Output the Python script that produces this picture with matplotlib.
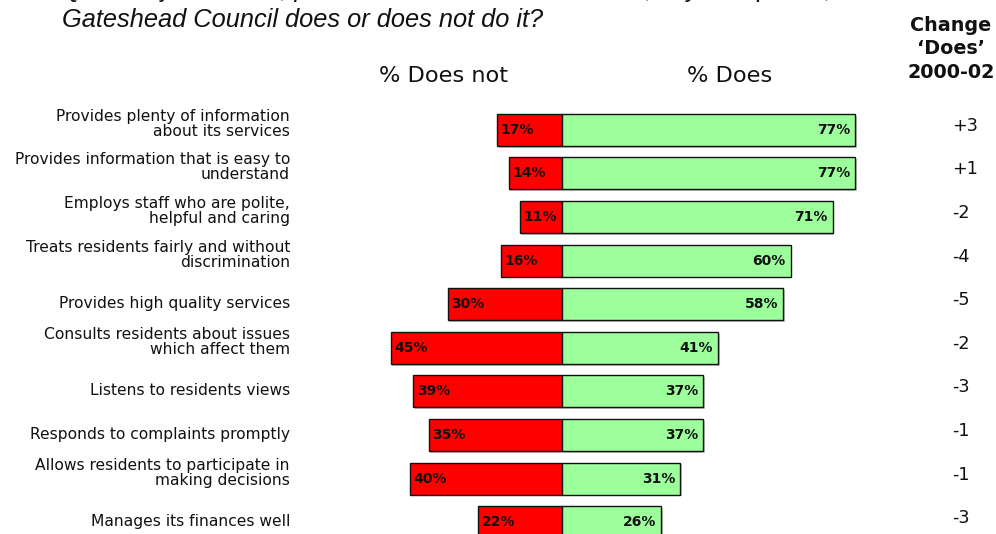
import matplotlib
matplotlib.use("Agg")
import matplotlib.pyplot as plt
from matplotlib.transforms import offset_copy
import matplotlib.patheffects as pe

plt.rcParams['font.family'] = ['DejaVu Sans']

categories = [
    "Provides plenty of information\nabout its services",
    "Provides information that is easy to\nunderstand",
    "Employs staff who are polite,\nhelpful and caring",
    "Treats residents fairly and without\ndiscrimination",
    "Provides high quality services",
    "Consults residents about issues\nwhich affect them",
    "Listens to residents views",
    "Responds to complaints promptly",
    "Allows residents to participate in\nmaking decisions",
    "Manages its finances well",
]
does_not = [17, 14, 11, 16, 30, 45, 39, 35, 40, 22]
does = [77, 77, 71, 60, 58, 41, 37, 37, 31, 26]
change = ["+3", "+1", "-2", "-4", "-5", "-2", "-3", "-1", "-1", "-3"]

RED = "#FF0000"
GREEN = "#9CFF9C"
INK = "#111111"

W, H = 996, 534
fig = plt.figure(figsize=(W / 100, H / 100), dpi=100)
ax = fig.add_axes([0, 0, 1, 1])
ax.set_xlim(-147.5, 113.9)
ax.set_ylim(9.27, -2.98)
ax.axis("off")

rows = list(range(len(categories)))
bar_h = 0.734
shadow = [pe.SimplePatchShadow(offset=(1.2, -1.2), shadow_rgbFace="#9a9a9a", alpha=0.6),
          pe.Normal()]

red_bars = ax.barh(rows, [-v for v in does_not], height=bar_h, color=RED,
                   edgecolor=INK, linewidth=1.0)
green_bars = ax.barh(rows, does, height=bar_h, color=GREEN,
                     edgecolor=INK, linewidth=1.0)
for p in list(red_bars) + list(green_bars):
    p.set_path_effects(shadow)

for i, (dn, d) in enumerate(zip(does_not, does)):
    ax.text(-dn + 0.9, i, f"{dn}%", ha="left", va="center",
            fontsize=10, fontweight="bold", color=INK)
    ax.text(d - 1.3, i, f"{d}%", ha="right", va="center",
            fontsize=10, fontweight="bold", color=INK)

# category labels to the left of the bars
for i, cat in enumerate(categories):
    dy = 6 if "\n" in cat else 1
    tr = offset_copy(ax.transData, fig=fig, x=0, y=dy, units="dots")
    ax.text(-71.4, i, cat, ha="right", va="center", fontsize=11.2,
            linespacing=1.0, transform=tr, color=INK)

# change column
for i, c in enumerate(change):
    tr = offset_copy(ax.transData, fig=fig, x=0, y=4, units="dots")
    ax.text(102.4, i, c, ha="left", va="center", fontsize=12.7,
            transform=tr, color=INK)

# column headers
ax.text(-31.0, -1.24, "% Does not", ha="center", va="center", fontsize=16.2, color=INK)
ax.text(44.1, -1.24, "% Does", ha="center", va="center", fontsize=16.2, color=INK)
fig.text(951 / W, 1 - 49 / H, "Change\n\u2018Does\u2019\n2000-02", ha="center",
         va="center", fontsize=13.8, fontweight="bold", linespacing=1.3, color=INK)

# question text
fig.text(62 / W, 1 - 27 / H, "Gateshead Council does or does not do it?",
         ha="left", va="baseline", fontsize=18.3, style="italic",
         family="Liberation Sans", color=INK)
fig.text(62 / W, 1 - (-2.5) / H,
         "Q12 Subjects listed, please tell me for each whether, in your opinion, %",
         ha="left", va="baseline", fontsize=18.3, style="italic",
         family="Liberation Sans", color=INK)

fig.savefig("out.png", dpi=100)
